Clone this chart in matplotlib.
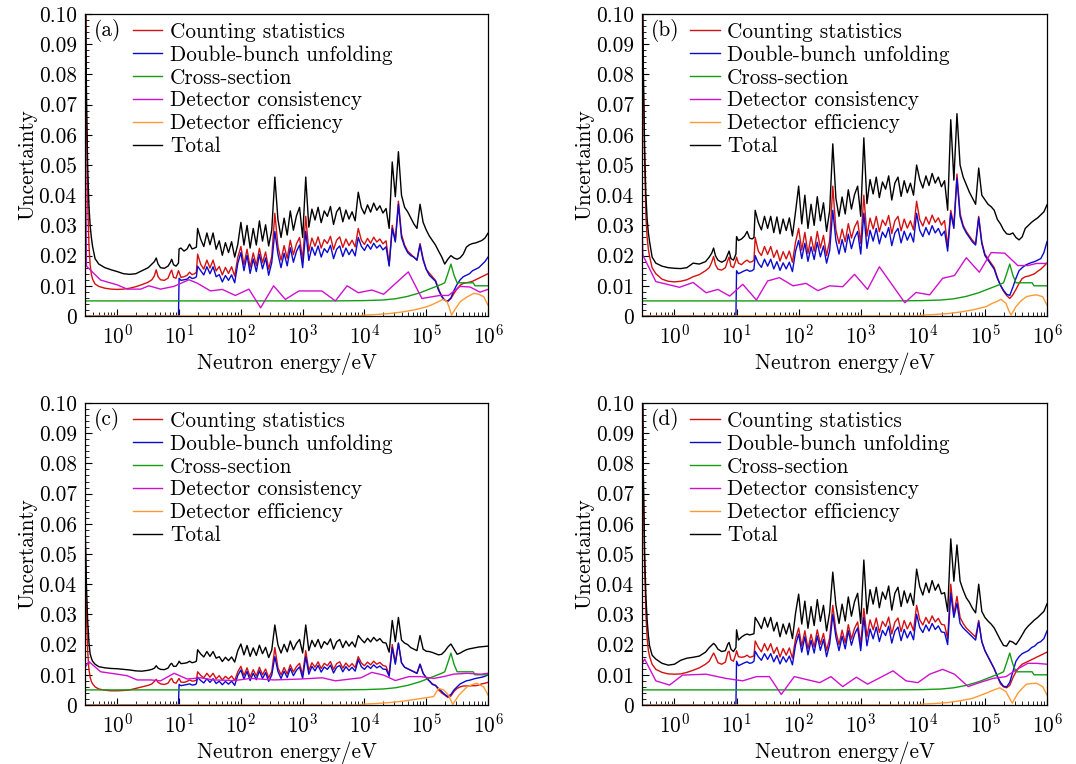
import numpy as np
import matplotlib
matplotlib.use("Agg")
import matplotlib.pyplot as plt
from matplotlib.ticker import MultipleLocator, FuncFormatter, LogLocator, NullFormatter, FixedLocator

plt.rcParams['font.family'] = 'cmr10'
plt.rcParams['mathtext.fontset'] = 'cm'
plt.rcParams['axes.formatter.use_mathtext'] = True
plt.rcParams['axes.unicode_minus'] = False

# ---------------- data ----------------
# log10(neutron energy / eV) grid for the fine-structured curves
logE_grid = [
    -0.52, -0.51, -0.50, -0.48, -0.46, -0.44, -0.42, -0.40, -0.36, -0.30,
    -0.20, -0.10, 0.00, 0.10, 0.20, 0.30, 0.40, 0.50, 0.56, 0.60,
    0.63, 0.66, 0.70, 0.76, 0.82, 0.86, 0.88, 0.91, 0.95, 0.99,
    1.00, 1.03, 1.08, 1.13, 1.17, 1.21, 1.25, 1.28,
    1.30, 1.35, 1.40, 1.45, 1.50, 1.55, 1.60, 1.65, 1.70, 1.75,
    1.80, 1.85, 1.90, 1.95, 2.00, 2.05, 2.10, 2.15, 2.20, 2.25,
    2.30, 2.35, 2.40, 2.45, 2.50, 2.55, 2.60, 2.65, 2.70, 2.75,
    2.80, 2.85, 2.90, 2.95, 3.00, 3.05, 3.10, 3.15, 3.20, 3.25,
    3.30, 3.35, 3.40, 3.45, 3.50, 3.55, 3.60, 3.65, 3.70, 3.75,
    3.80, 3.85, 3.90, 3.95, 4.00, 4.05, 4.10, 4.15, 4.20, 4.25,
    4.30, 4.35, 4.40, 4.45, 4.50, 4.55, 4.60, 4.65, 4.70, 4.75,
    4.80, 4.85, 4.90, 4.95,
    5.00, 5.05, 5.10, 5.15, 5.20, 5.25, 5.30, 5.35, 5.40, 5.45,
    5.50, 5.55, 5.60, 5.65, 5.70, 5.75, 5.80, 5.85, 5.90, 5.95, 6.00,
]

# ---- panel (a) ----
total_a = [
    0.12, 0.10, 0.075, 0.05, 0.037, 0.030, 0.026, 0.023, 0.019, 0.0172,
    0.016, 0.0153, 0.0147, 0.014, 0.0138, 0.014, 0.015, 0.016, 0.0172, 0.018,
    0.0192, 0.0172, 0.016, 0.0158, 0.0165, 0.0178, 0.0188, 0.017, 0.0165, 0.0175,
    0.0222, 0.0225, 0.0215, 0.0222, 0.0238, 0.0222, 0.0225, 0.0228,
    0.029, 0.0254, 0.023, 0.0275, 0.0236, 0.0275, 0.0221, 0.0249, 0.0201, 0.0243,
    0.021, 0.0246, 0.0195, 0.0237, 0.031, 0.0235, 0.030, 0.0225, 0.029, 0.0235,
    0.0315, 0.0248, 0.0302, 0.0232, 0.0285, 0.046, 0.032, 0.026, 0.0324, 0.0268,
    0.0348, 0.0284, 0.0332, 0.036, 0.026, 0.046, 0.0294, 0.0354, 0.0318, 0.036,
    0.0309, 0.0348, 0.033, 0.0363, 0.0303, 0.0345, 0.036, 0.0312, 0.0351, 0.0321,
    0.0345, 0.0315, 0.041, 0.0359, 0.0338, 0.0368, 0.0344, 0.0374, 0.035, 0.0365,
    0.0341, 0.0356, 0.029, 0.051, 0.0395, 0.0544, 0.040, 0.036, 0.0345, 0.0325,
    0.0305, 0.029, 0.037, 0.031,
    0.0285, 0.0265, 0.025, 0.0235, 0.0215, 0.0196, 0.0172, 0.0188, 0.020, 0.0192,
    0.0188, 0.0193, 0.0205, 0.0228, 0.0236, 0.024, 0.0242, 0.0246, 0.025, 0.0258, 0.0274,
]
counting_a = [
    0.12, 0.10, 0.065, 0.038, 0.024, 0.017, 0.0138, 0.0122, 0.0106, 0.0098,
    0.0092, 0.0089, 0.0088, 0.0089, 0.0092, 0.0097, 0.0104, 0.0112, 0.012, 0.0133,
    0.0153, 0.013, 0.012, 0.0118, 0.0125, 0.0145, 0.0152, 0.0128, 0.0125, 0.015,
    0.0145, 0.0128, 0.013, 0.0135, 0.0145, 0.0137, 0.014, 0.0145,
    0.0205, 0.0171, 0.0155, 0.0185, 0.0159, 0.0185, 0.0149, 0.0164, 0.0136, 0.0161,
    0.0141, 0.0163, 0.0132, 0.0194, 0.023, 0.017, 0.0221, 0.0161, 0.0209, 0.0167,
    0.0224, 0.0176, 0.0212, 0.0155, 0.0197, 0.034, 0.023, 0.0185, 0.0233, 0.0191,
    0.0251, 0.0203, 0.0239, 0.026, 0.0185, 0.033, 0.0214, 0.0258, 0.0231, 0.0262,
    0.0225, 0.0253, 0.024, 0.0264, 0.022, 0.0251, 0.0262, 0.0227, 0.0255, 0.0233,
    0.0251, 0.0229, 0.029, 0.0251, 0.0237, 0.0257, 0.0241, 0.0261, 0.0245, 0.0255,
    0.0239, 0.0249, 0.017, 0.030, 0.025, 0.038, 0.027, 0.0235, 0.0215, 0.0205,
    0.0195, 0.0185, 0.024, 0.019,
    0.0155, 0.0142, 0.013, 0.0118, 0.009, 0.0065, 0.0052, 0.0048, 0.0058, 0.0075,
    0.009, 0.0102, 0.0108, 0.011, 0.0112, 0.0115, 0.012, 0.0125, 0.013, 0.0135, 0.014,
]
doublebunch_a = [
    0, 0, 0, 0, 0, 0, 0, 0, 0, 0,
    0, 0, 0, 0, 0, 0, 0, 0, 0, 0,
    0, 0, 0, 0, 0, 0, 0, 0, 0, 0,
    0.0125, 0.0118, 0.012, 0.0122, 0.013, 0.0124, 0.0126, 0.013,
    0.0165, 0.015, 0.0136, 0.0163, 0.014, 0.0163, 0.013, 0.0137, 0.0113, 0.0134,
    0.0118, 0.0136, 0.011, 0.0174, 0.021, 0.015, 0.0201, 0.0141, 0.0189, 0.0147,
    0.0204, 0.0156, 0.0192, 0.0135, 0.0177, 0.028, 0.0205, 0.016, 0.0208, 0.0166,
    0.0226, 0.0178, 0.0214, 0.0235, 0.016, 0.028, 0.0184, 0.0228, 0.0201, 0.0232,
    0.0195, 0.0223, 0.021, 0.0234, 0.019, 0.0221, 0.0232, 0.0197, 0.0225, 0.0203,
    0.0221, 0.0199, 0.026, 0.0231, 0.0217, 0.0237, 0.0221, 0.0241, 0.0225, 0.0235,
    0.0219, 0.0229, 0.0165, 0.029, 0.0245, 0.037, 0.026, 0.023, 0.021, 0.020,
    0.0195, 0.0185, 0.0235, 0.0185,
    0.0155, 0.0135, 0.0125, 0.0115, 0.0085, 0.0065, 0.0052, 0.005, 0.006, 0.0085,
    0.0105, 0.012, 0.013, 0.0135, 0.014, 0.015, 0.0155, 0.016, 0.017, 0.018, 0.0195,
]
consistency_logE_a = [-0.52, -0.50, -0.27, 0.00, 0.16, 0.38, 0.51, 0.70, 0.915, 1.16,
                      1.29, 1.51, 1.70, 1.91, 2.13, 2.32, 2.53, 2.72, 2.94, 3.31,
                      3.53, 3.72, 3.90, 4.12, 4.31, 4.71, 4.93, 5.22, 5.36, 5.55,
                      5.71, 5.87, 6.00]
consistency_a = [0.068, 0.0165, 0.0119, 0.0103, 0.0089, 0.0089, 0.010, 0.0089, 0.0098, 0.012,
                 0.0109, 0.0083, 0.0088, 0.0068, 0.0089, 0.0027, 0.010, 0.0055, 0.0083, 0.0083,
                 0.005, 0.010, 0.0077, 0.0086, 0.0072, 0.0146, 0.0058, 0.0068, 0.0068, 0.0098,
                 0.0096, 0.0079, 0.0088]
efficiency_logE_a = [-0.52, 3.90, 4.00, 4.20, 4.40, 4.60, 4.80, 5.00, 5.10, 5.20, 5.27,
                     5.33, 5.37, 5.41, 5.46, 5.55, 5.65, 5.77, 5.85, 5.93, 6.00]
efficiency_a = [0, 0, 0.0003, 0.0005, 0.0008, 0.0013, 0.002, 0.003, 0.0038, 0.0048, 0.0055,
                0.005, 0.003, 0.0003, 0.002, 0.0047, 0.0062, 0.0075, 0.0072, 0.0064, 0.0036]

# ---- panel (b) ----
total_b = [
    0.12, 0.10, 0.08, 0.055, 0.040, 0.032, 0.0275, 0.0245, 0.0195, 0.0175,
    0.0165, 0.016, 0.0158, 0.0157, 0.016, 0.0175, 0.0172, 0.018, 0.0195, 0.0208,
    0.0225, 0.020, 0.0185, 0.0178, 0.0185, 0.0205, 0.0215, 0.019, 0.0185, 0.0205,
    0.0263, 0.025, 0.0255, 0.0265, 0.028, 0.0258, 0.0255, 0.026,
    0.035, 0.031, 0.0285, 0.033, 0.029, 0.033, 0.0276, 0.0328, 0.0272, 0.0321,
    0.0283, 0.0325, 0.0265, 0.0345, 0.043, 0.0305, 0.040, 0.029, 0.037, 0.030,
    0.0395, 0.0315, 0.0375, 0.028, 0.035, 0.057, 0.039, 0.033, 0.0394, 0.0338,
    0.0418, 0.0354, 0.0402, 0.043, 0.033, 0.059, 0.0372, 0.0452, 0.0404, 0.046,
    0.0392, 0.0444, 0.042, 0.0464, 0.0384, 0.044, 0.046, 0.0396, 0.0448, 0.0408,
    0.044, 0.040, 0.050, 0.0452, 0.0424, 0.0464, 0.0432, 0.0472, 0.044, 0.046,
    0.0428, 0.0448, 0.035, 0.065, 0.045, 0.067, 0.050, 0.046, 0.0435, 0.041,
    0.039, 0.037, 0.049, 0.040,
    0.0385, 0.037, 0.0362, 0.035, 0.032, 0.0305, 0.0285, 0.0272, 0.027, 0.0275,
    0.026, 0.0252, 0.0262, 0.029, 0.030, 0.031, 0.0318, 0.0325, 0.0335, 0.0345, 0.0368,
]
counting_b = [
    0.12, 0.10, 0.075, 0.05, 0.033, 0.026, 0.022, 0.0196, 0.016, 0.014,
    0.0122, 0.0115, 0.0113, 0.0115, 0.012, 0.013, 0.0137, 0.015, 0.016, 0.0178,
    0.0197, 0.017, 0.0155, 0.0152, 0.016, 0.0185, 0.0195, 0.0165, 0.016, 0.0185,
    0.0195, 0.0175, 0.017, 0.018, 0.0185, 0.0178, 0.018, 0.0185,
    0.026, 0.0215, 0.020, 0.023, 0.0204, 0.023, 0.0194, 0.0218, 0.0182, 0.0213,
    0.0189, 0.0215, 0.0178, 0.0245, 0.029, 0.0218, 0.0277, 0.0207, 0.0263, 0.0214,
    0.028, 0.0225, 0.0267, 0.020, 0.025, 0.043, 0.0285, 0.024, 0.0288, 0.0246,
    0.0306, 0.0258, 0.0294, 0.0315, 0.024, 0.040, 0.0264, 0.0324, 0.0288, 0.033,
    0.0279, 0.0318, 0.030, 0.0333, 0.0273, 0.0315, 0.033, 0.0282, 0.0321, 0.0291,
    0.0315, 0.0285, 0.038, 0.0319, 0.0298, 0.0328, 0.0304, 0.0334, 0.031, 0.0325,
    0.0301, 0.0316, 0.023, 0.035, 0.030, 0.047, 0.034, 0.030, 0.028, 0.0265,
    0.025, 0.024, 0.033, 0.0245,
    0.0205, 0.019, 0.0175, 0.016, 0.0128, 0.0102, 0.0082, 0.0068, 0.0058, 0.007,
    0.0088, 0.0108, 0.0124, 0.013, 0.0132, 0.0136, 0.014, 0.0148, 0.0155, 0.0165, 0.0176,
]
doublebunch_b = [
    0, 0, 0, 0, 0, 0, 0, 0, 0, 0,
    0, 0, 0, 0, 0, 0, 0, 0, 0, 0,
    0, 0, 0, 0, 0, 0, 0, 0, 0, 0,
    0.015, 0.014, 0.0145, 0.015, 0.0153, 0.0148, 0.015, 0.0155,
    0.020, 0.0175, 0.0161, 0.0188, 0.0165, 0.0188, 0.0156, 0.018, 0.0151, 0.0176,
    0.0156, 0.0178, 0.0147, 0.0214, 0.025, 0.019, 0.0241, 0.0181, 0.0229, 0.0187,
    0.0244, 0.0196, 0.0232, 0.0175, 0.0217, 0.035, 0.025, 0.0205, 0.0253, 0.0211,
    0.0271, 0.0223, 0.0259, 0.028, 0.0205, 0.034, 0.0224, 0.0284, 0.0248, 0.029,
    0.0239, 0.0278, 0.026, 0.0293, 0.0233, 0.0275, 0.029, 0.0242, 0.0281, 0.0251,
    0.0275, 0.0245, 0.034, 0.0284, 0.0263, 0.0293, 0.0269, 0.0299, 0.0275, 0.029,
    0.0266, 0.0281, 0.0215, 0.034, 0.029, 0.0456, 0.033, 0.0295, 0.0275, 0.026,
    0.0245, 0.0235, 0.0325, 0.024,
    0.020, 0.0185, 0.017, 0.0155, 0.0125, 0.0102, 0.0085, 0.0072, 0.0068, 0.0095,
    0.0125, 0.015, 0.016, 0.0168, 0.0173, 0.0177, 0.018, 0.0185, 0.019, 0.021, 0.0246,
]
consistency_logE_b = [-0.52, -0.51, -0.30, 0.08, 0.30, 0.51, 0.70, 0.89, 1.10, 1.32,
                      1.50, 1.69, 1.91, 2.12, 2.31, 2.50, 2.71, 2.90, 3.11, 3.30,
                      3.71, 3.89, 4.11, 4.32, 4.51, 4.70, 4.91, 5.10, 5.32, 5.53,
                      5.69, 5.83, 6.00]
consistency_b = [0.030, 0.0202, 0.0114, 0.0095, 0.0111, 0.0077, 0.0088, 0.0066, 0.0105, 0.0053,
                 0.0116, 0.0127, 0.010, 0.0108, 0.0084, 0.010, 0.0097, 0.0138, 0.0088, 0.0163,
                 0.0044, 0.0078, 0.007, 0.0125, 0.0134, 0.0193, 0.0145, 0.021, 0.0208, 0.0167,
                 0.0167, 0.0174, 0.0174]
efficiency_logE_b = [-0.52, 3.90, 4.00, 4.20, 4.40, 4.60, 4.80, 5.02, 5.10, 5.18, 5.26,
                     5.34, 5.38, 5.42, 5.50, 5.58, 5.67, 5.75, 5.83, 5.93, 6.00]
efficiency_b = [0, 0, 0.0003, 0.0005, 0.0008, 0.0013, 0.002, 0.0031, 0.004, 0.0047, 0.0055,
                0.0042, 0.002, 0.0003, 0.0031, 0.005, 0.0064, 0.0068, 0.007, 0.0064, 0.0036]

# ---- panel (c) ----
total_c = [
    0.058, 0.05, 0.04, 0.028, 0.021, 0.017, 0.0155, 0.0145, 0.0135, 0.0127,
    0.0123, 0.0121, 0.012, 0.0118, 0.0116, 0.0113, 0.0112, 0.0115, 0.0118, 0.0122,
    0.013, 0.0122, 0.0118, 0.0117, 0.0122, 0.0135, 0.0138, 0.0128, 0.0128, 0.014,
    0.0145, 0.0137, 0.0138, 0.014, 0.0145, 0.014, 0.0142, 0.0145,
    0.0183, 0.0169, 0.0159, 0.0177, 0.0161, 0.0177, 0.0155, 0.016, 0.0144, 0.0158,
    0.0147, 0.0159, 0.0142, 0.018, 0.0202, 0.0166, 0.0197, 0.0161, 0.0189, 0.0164,
    0.0198, 0.017, 0.0191, 0.0157, 0.0182, 0.0265, 0.0199, 0.0172, 0.0201, 0.0176,
    0.0212, 0.0183, 0.0204, 0.0217, 0.0172, 0.0265, 0.018, 0.0214, 0.0193, 0.0217,
    0.0188, 0.021, 0.020, 0.0219, 0.0185, 0.0209, 0.0217, 0.019, 0.0212, 0.0195,
    0.0209, 0.0192, 0.023, 0.0217, 0.0206, 0.0221, 0.0209, 0.0224, 0.0212, 0.022,
    0.0207, 0.0205, 0.0175, 0.028, 0.021, 0.029, 0.0215, 0.0205, 0.020, 0.019,
    0.0185, 0.018, 0.023, 0.0185,
    0.0178, 0.0177, 0.0174, 0.017, 0.0166, 0.0168, 0.0178, 0.0192, 0.0202, 0.0185,
    0.0168, 0.0172, 0.0178, 0.0183, 0.0186, 0.0188, 0.019, 0.0192, 0.0193, 0.0194, 0.0195,
]
counting_c = [
    0.055, 0.045, 0.03, 0.018, 0.012, 0.0092, 0.0078, 0.007, 0.006, 0.0053,
    0.0049, 0.0047, 0.0047, 0.0048, 0.005, 0.0055, 0.006, 0.0065, 0.007, 0.0078,
    0.0085, 0.0075, 0.007, 0.0068, 0.0072, 0.0085, 0.0088, 0.0075, 0.0072, 0.0085,
    0.0088, 0.0076, 0.0075, 0.0078, 0.0083, 0.0079, 0.008, 0.0082,
    0.011, 0.0098, 0.009, 0.0105, 0.0092, 0.0105, 0.0087, 0.0097, 0.0083, 0.0095,
    0.0086, 0.0096, 0.0081, 0.011, 0.0128, 0.0098, 0.0123, 0.0093, 0.0117, 0.0096,
    0.0125, 0.010, 0.0119, 0.009, 0.0111, 0.019, 0.0123, 0.010, 0.0124, 0.0103,
    0.0133, 0.0109, 0.0127, 0.0138, 0.010, 0.018, 0.0114, 0.014, 0.0125, 0.0143,
    0.0121, 0.0138, 0.013, 0.0144, 0.0118, 0.0137, 0.0143, 0.0122, 0.0139, 0.0126,
    0.0137, 0.0124, 0.016, 0.0139, 0.013, 0.0142, 0.0133, 0.0145, 0.0135, 0.0141,
    0.0131, 0.0128, 0.010, 0.020, 0.014, 0.0205, 0.014, 0.0125, 0.012, 0.0115,
    0.011, 0.0105, 0.0135, 0.0105,
    0.009, 0.008, 0.007, 0.0065, 0.005, 0.004, 0.0033, 0.0025, 0.003, 0.0045,
    0.0055, 0.006, 0.0063, 0.0063, 0.0063, 0.0064, 0.0064, 0.0066, 0.007, 0.0072, 0.0075,
]
doublebunch_c = [
    0, 0, 0, 0, 0, 0, 0, 0, 0, 0,
    0, 0, 0, 0, 0, 0, 0, 0, 0, 0,
    0, 0, 0, 0, 0, 0, 0, 0, 0, 0,
    0.0068, 0.0064, 0.0066, 0.0068, 0.007, 0.0066, 0.0067, 0.007,
    0.0092, 0.0081, 0.0073, 0.0087, 0.0075, 0.0087, 0.0071, 0.0079, 0.0067, 0.0078,
    0.0069, 0.0079, 0.0065, 0.0098, 0.0116, 0.0086, 0.0111, 0.0081, 0.0105, 0.0084,
    0.0113, 0.0088, 0.0107, 0.0078, 0.0099, 0.016, 0.0111, 0.0088, 0.0112, 0.0091,
    0.0121, 0.0097, 0.0115, 0.0126, 0.0088, 0.016, 0.0102, 0.0128, 0.0113, 0.0131,
    0.0109, 0.0126, 0.0118, 0.0132, 0.0106, 0.0125, 0.0131, 0.011, 0.0127, 0.0114,
    0.0125, 0.0112, 0.015, 0.0127, 0.0118, 0.013, 0.0121, 0.0133, 0.0123, 0.0129,
    0.0119, 0.0118, 0.0095, 0.019, 0.0135, 0.0205, 0.014, 0.0125, 0.012, 0.0115,
    0.011, 0.0105, 0.0135, 0.0105,
    0.009, 0.008, 0.0068, 0.0065, 0.0055, 0.0045, 0.0035, 0.0028, 0.0035, 0.005,
    0.006, 0.007, 0.0075, 0.008, 0.0082, 0.0085, 0.0088, 0.009, 0.0092, 0.0095, 0.010,
]
consistency_logE_c = [-0.52, -0.46, -0.27, 0.00, 0.16, 0.32, 0.54, 0.70, 0.92, 1.13,
                      1.35, 1.56, 1.89, 2.16, 2.53, 2.96, 3.32, 3.53, 3.77, 3.94,
                      4.12, 4.31, 4.50, 4.72, 4.91, 5.12, 5.28, 5.44, 5.66, 5.88, 6.00]
consistency_c = [0.0125, 0.0144, 0.011, 0.0102, 0.0097, 0.0083, 0.0083, 0.008, 0.0105, 0.0086,
                 0.009, 0.0083, 0.0081, 0.0088, 0.0083, 0.0086, 0.009, 0.008, 0.0086, 0.009,
                 0.0108, 0.0099, 0.0081, 0.0094, 0.0094, 0.0088, 0.0094, 0.0102, 0.0105, 0.0102,
                 0.0105]
efficiency_logE_c = [-0.52, 3.90, 4.00, 4.20, 4.40, 4.60, 4.80, 5.00, 5.12, 5.20,
                     5.28, 5.36, 5.43, 5.53, 5.66, 5.75, 5.82, 5.93, 6.00]
efficiency_c = [0, 0, 0.0003, 0.0005, 0.0008, 0.0012, 0.0018, 0.0024, 0.0028, 0.0055,
                0.005, 0.0033, 0.0002, 0.0033, 0.006, 0.0068, 0.0072, 0.006, 0.0033]

# ---- panel (d) ----
total_d = [
    0.12, 0.10, 0.075, 0.05, 0.036, 0.028, 0.023, 0.0195, 0.0165, 0.0152,
    0.0138, 0.0132, 0.0135, 0.0148, 0.0155, 0.0158, 0.0162, 0.0175, 0.019, 0.0198,
    0.0204, 0.0198, 0.0185, 0.0177, 0.018, 0.0202, 0.0207, 0.0185, 0.0177, 0.019,
    0.0249, 0.0215, 0.0225, 0.0232, 0.0235, 0.0232, 0.0234, 0.0236,
    0.029, 0.0273, 0.0253, 0.029, 0.0258, 0.029, 0.0245, 0.0274, 0.0226, 0.0268,
    0.0235, 0.0271, 0.022, 0.0304, 0.0367, 0.0268, 0.0344, 0.0254, 0.0326, 0.0263,
    0.0349, 0.0277, 0.033, 0.0245, 0.0308, 0.044, 0.033, 0.027, 0.0334, 0.0278,
    0.0358, 0.0294, 0.0342, 0.037, 0.027, 0.048, 0.0302, 0.0382, 0.0334, 0.039,
    0.0322, 0.0374, 0.035, 0.0394, 0.0314, 0.037, 0.039, 0.0326, 0.0378, 0.0338,
    0.037, 0.033, 0.045, 0.0392, 0.0364, 0.0404, 0.0372, 0.0412, 0.038, 0.040,
    0.0368, 0.0372, 0.031, 0.055, 0.041, 0.053, 0.041, 0.038, 0.0355, 0.034,
    0.032, 0.0305, 0.040, 0.031,
    0.029, 0.0278, 0.0268, 0.0255, 0.0235, 0.0215, 0.0197, 0.0195, 0.0212, 0.0208,
    0.020, 0.0215, 0.0232, 0.025, 0.0262, 0.0272, 0.0282, 0.029, 0.030, 0.031, 0.0335,
]
counting_d = [
    0.12, 0.10, 0.07, 0.045, 0.030, 0.022, 0.018, 0.016, 0.0135, 0.0118,
    0.0108, 0.0103, 0.0102, 0.0103, 0.0108, 0.0115, 0.0123, 0.0135, 0.0145, 0.016,
    0.0172, 0.016, 0.014, 0.0135, 0.0142, 0.0175, 0.0178, 0.015, 0.0145, 0.017,
    0.018, 0.016, 0.0158, 0.016, 0.0165, 0.0158, 0.016, 0.0163,
    0.0212, 0.0191, 0.0176, 0.0203, 0.018, 0.0203, 0.0171, 0.0191, 0.0159, 0.0187,
    0.0165, 0.0189, 0.0155, 0.0219, 0.0255, 0.0195, 0.0246, 0.0186, 0.0234, 0.0192,
    0.0249, 0.0201, 0.0237, 0.018, 0.0222, 0.033, 0.0245, 0.020, 0.0248, 0.0206,
    0.0266, 0.0218, 0.0254, 0.0275, 0.020, 0.032, 0.0226, 0.0282, 0.0249, 0.0288,
    0.024, 0.0277, 0.026, 0.0291, 0.0235, 0.0274, 0.0288, 0.0243, 0.028, 0.0252,
    0.0274, 0.0246, 0.033, 0.0282, 0.0265, 0.029, 0.027, 0.0295, 0.0275, 0.0287,
    0.0267, 0.0265, 0.022, 0.040, 0.030, 0.036, 0.029, 0.027, 0.0255, 0.0245,
    0.0235, 0.0225, 0.028, 0.021,
    0.018, 0.016, 0.014, 0.012, 0.0095, 0.007, 0.006, 0.0057, 0.0065, 0.009,
    0.011, 0.0125, 0.0135, 0.014, 0.0145, 0.015, 0.0155, 0.016, 0.0165, 0.017, 0.0175,
]
doublebunch_d = [
    0, 0, 0, 0, 0, 0, 0, 0, 0, 0,
    0, 0, 0, 0, 0, 0, 0, 0, 0, 0,
    0, 0, 0, 0, 0, 0, 0, 0, 0, 0,
    0.0145, 0.013, 0.0135, 0.014, 0.0143, 0.0138, 0.014, 0.0145,
    0.0178, 0.016, 0.0148, 0.017, 0.0151, 0.017, 0.0143, 0.0164, 0.0136, 0.016,
    0.0142, 0.0162, 0.0133, 0.0199, 0.0235, 0.0175, 0.0226, 0.0166, 0.0214, 0.0172,
    0.0229, 0.0181, 0.0217, 0.016, 0.0202, 0.030, 0.0225, 0.018, 0.0228, 0.0186,
    0.0246, 0.0198, 0.0234, 0.0255, 0.018, 0.029, 0.0196, 0.0252, 0.0219, 0.0258,
    0.021, 0.0247, 0.023, 0.0261, 0.0205, 0.0244, 0.0258, 0.0213, 0.025, 0.0222,
    0.0244, 0.0216, 0.030, 0.0257, 0.024, 0.0265, 0.0245, 0.027, 0.025, 0.0262,
    0.0242, 0.024, 0.020, 0.037, 0.029, 0.0337, 0.027, 0.0255, 0.0245, 0.0235,
    0.0225, 0.0215, 0.0275, 0.021,
    0.018, 0.016, 0.014, 0.012, 0.0095, 0.0075, 0.0062, 0.006, 0.0075, 0.011,
    0.0145, 0.016, 0.017, 0.0175, 0.018, 0.019, 0.0195, 0.0205, 0.021, 0.022, 0.0245,
]
consistency_logE_d = [-0.52, -0.48, -0.30, -0.08, 0.13, 0.51, 0.83, 1.10, 1.32, 1.53,
                      1.72, 1.93, 2.34, 2.52, 2.71, 2.93, 3.11, 3.52, 3.73, 3.92,
                      4.11, 4.32, 4.51, 4.73, 4.91, 5.13, 5.34, 5.50, 5.69, 5.83, 6.00]
consistency_d = [0.0138, 0.0152, 0.008, 0.0066, 0.0099, 0.0102, 0.0088, 0.008, 0.0094, 0.0094,
                 0.0035, 0.0094, 0.0074, 0.0094, 0.0061, 0.0092, 0.0069, 0.0113, 0.008, 0.0074,
                 0.0102, 0.0118, 0.0102, 0.0061, 0.0074, 0.0088, 0.0094, 0.0116, 0.0138, 0.0138,
                 0.0135]
efficiency_logE_d = [-0.52, 3.90, 4.00, 4.20, 4.40, 4.60, 4.80, 5.02, 5.12, 5.24,
                     5.34, 5.39, 5.44, 5.53, 5.60, 5.67, 5.75, 5.83, 5.93, 6.00]
efficiency_d = [0, 0, 0.0003, 0.0005, 0.0008, 0.0014, 0.0022, 0.0039, 0.0048, 0.0057,
                0.0044, 0.0025, 0.0006, 0.0039, 0.0055, 0.0069, 0.0071, 0.0072, 0.0061, 0.0033]

# cross-section uncertainty (identical in all four panels)
crosssec_logE = [-0.52, 3.50, 4.00, 4.30, 4.50, 4.70, 4.90, 5.10, 5.25, 5.30,
                 5.35, 5.40, 5.45, 5.50, 5.76, 5.79, 6.00]
crosssec = [0.005, 0.005, 0.0051, 0.0053, 0.0057, 0.0065, 0.0077, 0.0093, 0.0105, 0.011,
            0.014, 0.0172, 0.0135, 0.011, 0.011, 0.010, 0.010]

series_labels = ['Counting statistics', 'Double-bunch unfolding', 'Cross-section',
                 'Detector consistency', 'Detector efficiency', 'Total']
panel_tags = ['(a)', '(b)', '(c)', '(d)']
y_ticks = [0, 0.01, 0.02, 0.03, 0.04, 0.05, 0.06, 0.07, 0.08, 0.09, 0.10]
x_ticks = [1e0, 1e1, 1e2, 1e3, 1e4, 1e5, 1e6]

# ---------------- plotting ----------------
colors = ['#d41010', '#0a0ad0', '#149c14', '#d010d0', '#ff9a33', '#000000']

panels = [
    (counting_a, doublebunch_a, consistency_logE_a, consistency_a, efficiency_logE_a, efficiency_a, total_a),
    (counting_b, doublebunch_b, consistency_logE_b, consistency_b, efficiency_logE_b, efficiency_b, total_b),
    (counting_c, doublebunch_c, consistency_logE_c, consistency_c, efficiency_logE_c, efficiency_c, total_c),
    (counting_d, doublebunch_d, consistency_logE_d, consistency_d, efficiency_logE_d, efficiency_d, total_d),
]

W, H = 1076, 764
fig = plt.figure(figsize=(W / 100, H / 100), dpi=100)
rects = [
    (85, 14, 403, 302), (642, 14, 405, 302),
    (85, 403, 403, 302), (642, 403, 405, 302),
]

E_grid = 10 ** np.array(logE_grid)
E_xs = 10 ** np.array(crosssec_logE)
FS = 15.3

for k, (rect, pdata) in enumerate(zip(rects, panels)):
    x0, y0, w, h = rect
    ax = fig.add_axes([x0 / W, 1 - (y0 + h) / H, w / W, h / H])
    cnt, dbu, cl, cv, el, ev, tot = pdata
    for arr in (cnt, dbu, tot):
        if len(arr) != len(logE_grid):
            raise ValueError('length mismatch in panel %d: %d' % (k, len(arr)))
    lw = 1.0
    ax.plot(E_grid, cnt, color=colors[0], lw=lw, label=series_labels[0])
    ax.plot(E_grid, dbu, color=colors[1], lw=lw, label=series_labels[1])
    ax.plot(E_xs, crosssec, color=colors[2], lw=lw, label=series_labels[2])
    ax.plot(10 ** np.array(cl), cv, color=colors[3], lw=lw, label=series_labels[3])
    ax.plot(10 ** np.array(el), ev, color=colors[4], lw=lw, label=series_labels[4])
    ax.plot(E_grid, tot, color=colors[5], lw=lw, label=series_labels[5])

    ax.set_xscale('log')
    ax.set_xlim(0.3, 1e6)
    ax.set_ylim(0, 0.1)
    ax.set_yticks(y_ticks)
    ax.yaxis.set_minor_locator(MultipleLocator(0.002))
    ax.yaxis.set_major_formatter(FuncFormatter(lambda v, p: '0' if abs(v) < 1e-9 else '%.2f' % v))
    ax.xaxis.set_major_locator(FixedLocator(x_ticks))
    ax.xaxis.set_major_formatter(FuncFormatter(lambda v, p: r'$10^{%d}$' % round(np.log10(v))))
    ax.xaxis.set_minor_locator(LogLocator(base=10, subs=[2, 3, 4, 5, 6, 7, 8, 9], numticks=100))
    ax.xaxis.set_minor_formatter(NullFormatter())
    ax.tick_params(which='both', direction='in', top=False, right=False, labelsize=FS)
    ax.tick_params(which='major', length=5, width=0.8, pad=6)
    ax.tick_params(which='minor', length=3, width=0.6)
    for sp in ax.spines.values():
        sp.set_linewidth(0.9)
    ax.set_xlabel('Neutron energy/eV', fontsize=FS, labelpad=3)
    ax.set_ylabel('Uncertainty', fontsize=FS, labelpad=1)
    ax.text(0.021, 0.944, panel_tags[k], transform=ax.transAxes, fontsize=FS,
            va='center', ha='left')
    ax.legend(loc='upper left', bbox_to_anchor=(0.118, 0.973), frameon=False,
              fontsize=FS, handlelength=1.4, handletextpad=0.36, labelspacing=0.16,
              borderpad=0, borderaxespad=0)

fig.savefig('out.png', dpi=100)
